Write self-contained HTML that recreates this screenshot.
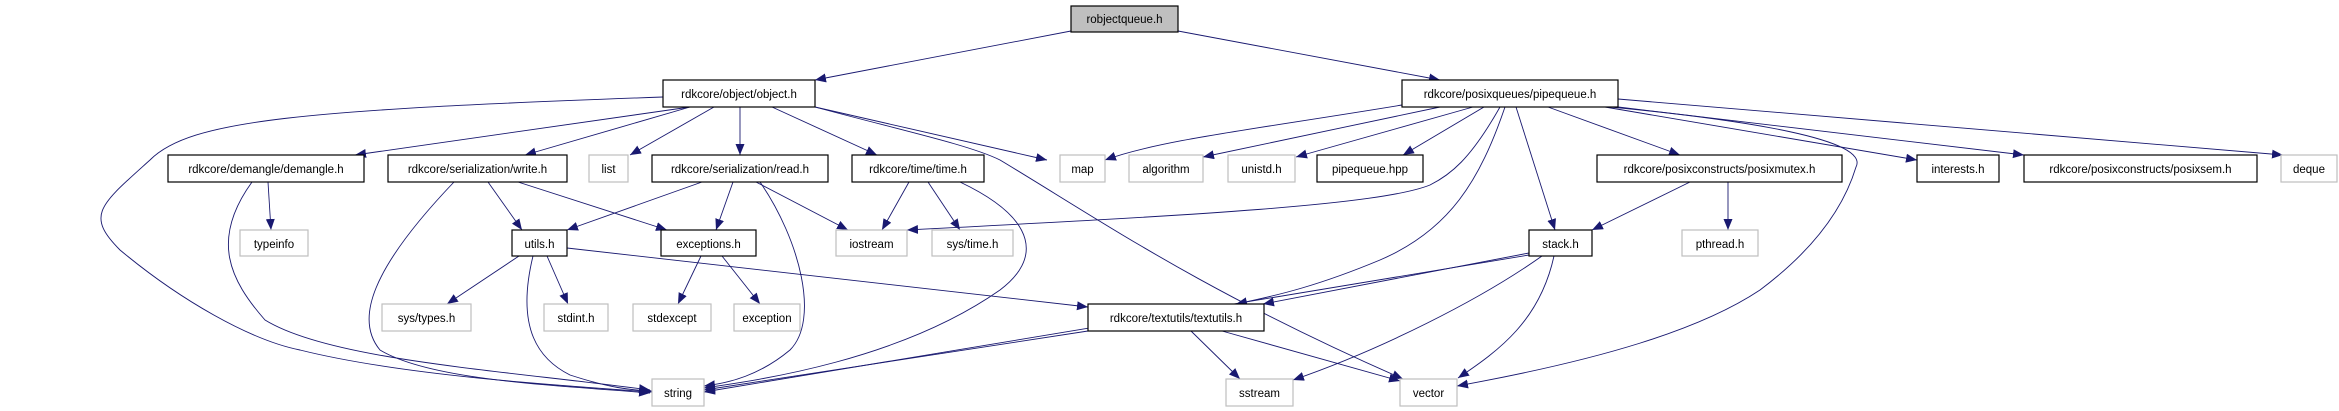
<!DOCTYPE html>
<html><head><meta charset="utf-8"><style>
html,body{margin:0;padding:0;background:#fff;}
svg{display:block;}
text{font-family:"Liberation Sans",sans-serif;font-size:11.5px;fill:#000;text-anchor:middle;}
.n{fill:#fff;stroke:#000;stroke-width:1.2;}
.g{fill:#fff;stroke:#bfbfbf;stroke-width:1.2;}
.e{fill:none;stroke:#191970;stroke-width:0.9;}
</style></head><body>
<svg width="2339" height="411" viewBox="0 0 2339 411" xmlns="http://www.w3.org/2000/svg">
<defs><marker id="a" markerUnits="userSpaceOnUse" markerWidth="12" markerHeight="10" refX="11" refY="4.5" orient="auto"><path d="M0,0 L11,4.5 L0,9 z" fill="#191970"/></marker></defs>
<g class="e" marker-end="url(#a)">
<path d="M1071,31 L815,80"/>
<path d="M1178,31 L1440,80"/>
<path d="M663,97 C300,110 190,120 150,160 C100,205 85,215 120,250 C180,300 250,340 300,350 C400,375 550,385 652,392"/>
<path d="M690,107 L355,155"/>
<path d="M690,107 L525,155"/>
<path d="M714,107 L630,155"/>
<path d="M740,107 L740,155"/>
<path d="M772,107 L877,155"/>
<path d="M815,107 L1047,160"/>
<path d="M815,107 C900,130 970,145 1000,160 C1100,220 1200,290 1403,379"/>
<path d="M1402,105 C1250,130 1160,140 1105,160"/>
<path d="M1440,107 L1203,157"/>
<path d="M1473,107 L1296,157"/>
<path d="M1484,107 L1403,155"/>
<path d="M1500,107 C1470,160 1450,175 1430,185 C1380,205 1200,215 907,230"/>
<path d="M1505,107 C1480,180 1450,230 1380,260 C1320,285 1280,295 1236,304"/>
<path d="M1516,107 L1555,230"/>
<path d="M1548,107 L1680,155"/>
<path d="M1605,107 L1917,160"/>
<path d="M1618,107 L2024,155"/>
<path d="M1618,99 L2283,155"/>
<path d="M1600,106 C1750,120 1870,140 1856,167 C1840,220 1800,260 1760,290 C1700,330 1600,360 1457,386"/>
<path d="M268,182 L271,230"/>
<path d="M252,182 C210,240 230,280 265,320 C330,360 500,370 650,390"/>
<path d="M488,182 L522,230"/>
<path d="M518,182 L667,230"/>
<path d="M454,182 C370,270 355,320 380,350 C430,380 550,385 650,393"/>
<path d="M702,182 L567,230"/>
<path d="M733,182 L716,230"/>
<path d="M756,182 L848,230"/>
<path d="M760,182 C800,240 820,320 790,350 C760,375 730,383 704,386"/>
<path d="M909,182 L882,230"/>
<path d="M928,182 L960,230"/>
<path d="M960,182 C1040,220 1040,260 1000,290 C900,360 760,380 704,388"/>
<path d="M519,256 L447,304"/>
<path d="M547,256 L568,304"/>
<path d="M533,256 C515,330 540,360 570,375 C610,388 630,390 652,391"/>
<path d="M567,248 L1088,307"/>
<path d="M701,256 L678,304"/>
<path d="M722,256 L760,304"/>
<path d="M1690,182 L1592,230"/>
<path d="M1728,182 L1728,230"/>
<path d="M1529,253 L1263,304"/>
<path d="M1529,255 L704,392"/>
<path d="M1542,256 C1480,300 1380,350 1293,380"/>
<path d="M1554,256 C1540,320 1500,350 1458,378"/>
<path d="M1088,331 L704,390"/>
<path d="M1191,331 L1240,379"/>
<path d="M1222,331 L1400,381"/>
</g>
<rect x="1071" y="6" width="107" height="26" fill="#bfbfbf" stroke="#000" stroke-width="1.2"/><text x="1124.5" y="23">robjectqueue.h</text>
<rect class="n" x="663" y="80" width="152" height="27"/><text x="739" y="98">rdkcore/object/object.h</text>
<rect class="n" x="1402" y="80" width="216" height="27"/><text x="1510" y="98">rdkcore/posixqueues/pipequeue.h</text>
<rect class="n" x="168" y="155" width="196" height="27"/><text x="266" y="173">rdkcore/demangle/demangle.h</text>
<rect class="n" x="388" y="155" width="179" height="27"/><text x="477.5" y="173">rdkcore/serialization/write.h</text>
<rect class="g" x="589" y="155" width="39" height="27"/><text x="608.5" y="173">list</text>
<rect class="n" x="652" y="155" width="176" height="27"/><text x="740" y="173">rdkcore/serialization/read.h</text>
<rect class="n" x="852" y="155" width="132" height="27"/><text x="918" y="173">rdkcore/time/time.h</text>
<rect class="g" x="1060" y="155" width="45" height="27"/><text x="1082.5" y="173">map</text>
<rect class="g" x="1129" y="155" width="74" height="27"/><text x="1166" y="173">algorithm</text>
<rect class="g" x="1228" y="155" width="67" height="27"/><text x="1261.5" y="173">unistd.h</text>
<rect class="n" x="1317" y="155" width="106" height="27"/><text x="1370" y="173">pipequeue.hpp</text>
<rect class="n" x="1597" y="155" width="245" height="27"/><text x="1719.5" y="173">rdkcore/posixconstructs/posixmutex.h</text>
<rect class="n" x="1917" y="155" width="82" height="27"/><text x="1958" y="173">interests.h</text>
<rect class="n" x="2024" y="155" width="233" height="27"/><text x="2140.5" y="173">rdkcore/posixconstructs/posixsem.h</text>
<rect class="g" x="2281" y="155" width="56" height="27"/><text x="2309" y="173">deque</text>
<rect class="g" x="240" y="230" width="68" height="26"/><text x="274" y="248">typeinfo</text>
<rect class="n" x="512" y="230" width="55" height="26"/><text x="539.5" y="248">utils.h</text>
<rect class="n" x="661" y="230" width="95" height="26"/><text x="708.5" y="248">exceptions.h</text>
<rect class="g" x="836" y="230" width="71" height="26"/><text x="871.5" y="248">iostream</text>
<rect class="g" x="932" y="230" width="81" height="26"/><text x="972.5" y="248">sys/time.h</text>
<rect class="n" x="1529" y="230" width="63" height="26"/><text x="1560.5" y="248">stack.h</text>
<rect class="g" x="1682" y="230" width="76" height="26"/><text x="1720" y="248">pthread.h</text>
<rect class="g" x="382" y="304" width="89" height="27"/><text x="426.5" y="322">sys/types.h</text>
<rect class="g" x="544" y="304" width="64" height="27"/><text x="576" y="322">stdint.h</text>
<rect class="g" x="633" y="304" width="78" height="27"/><text x="672" y="322">stdexcept</text>
<rect class="g" x="734" y="304" width="66" height="27"/><text x="767" y="322">exception</text>
<rect class="n" x="1088" y="304" width="176" height="27"/><text x="1176" y="322">rdkcore/textutils/textutils.h</text>
<rect class="g" x="652" y="379" width="52" height="27"/><text x="678" y="397">string</text>
<rect class="g" x="1226" y="379" width="67" height="27"/><text x="1259.5" y="397">sstream</text>
<rect class="g" x="1400" y="379" width="57" height="27"/><text x="1428.5" y="397">vector</text>
</svg>
</body></html>
